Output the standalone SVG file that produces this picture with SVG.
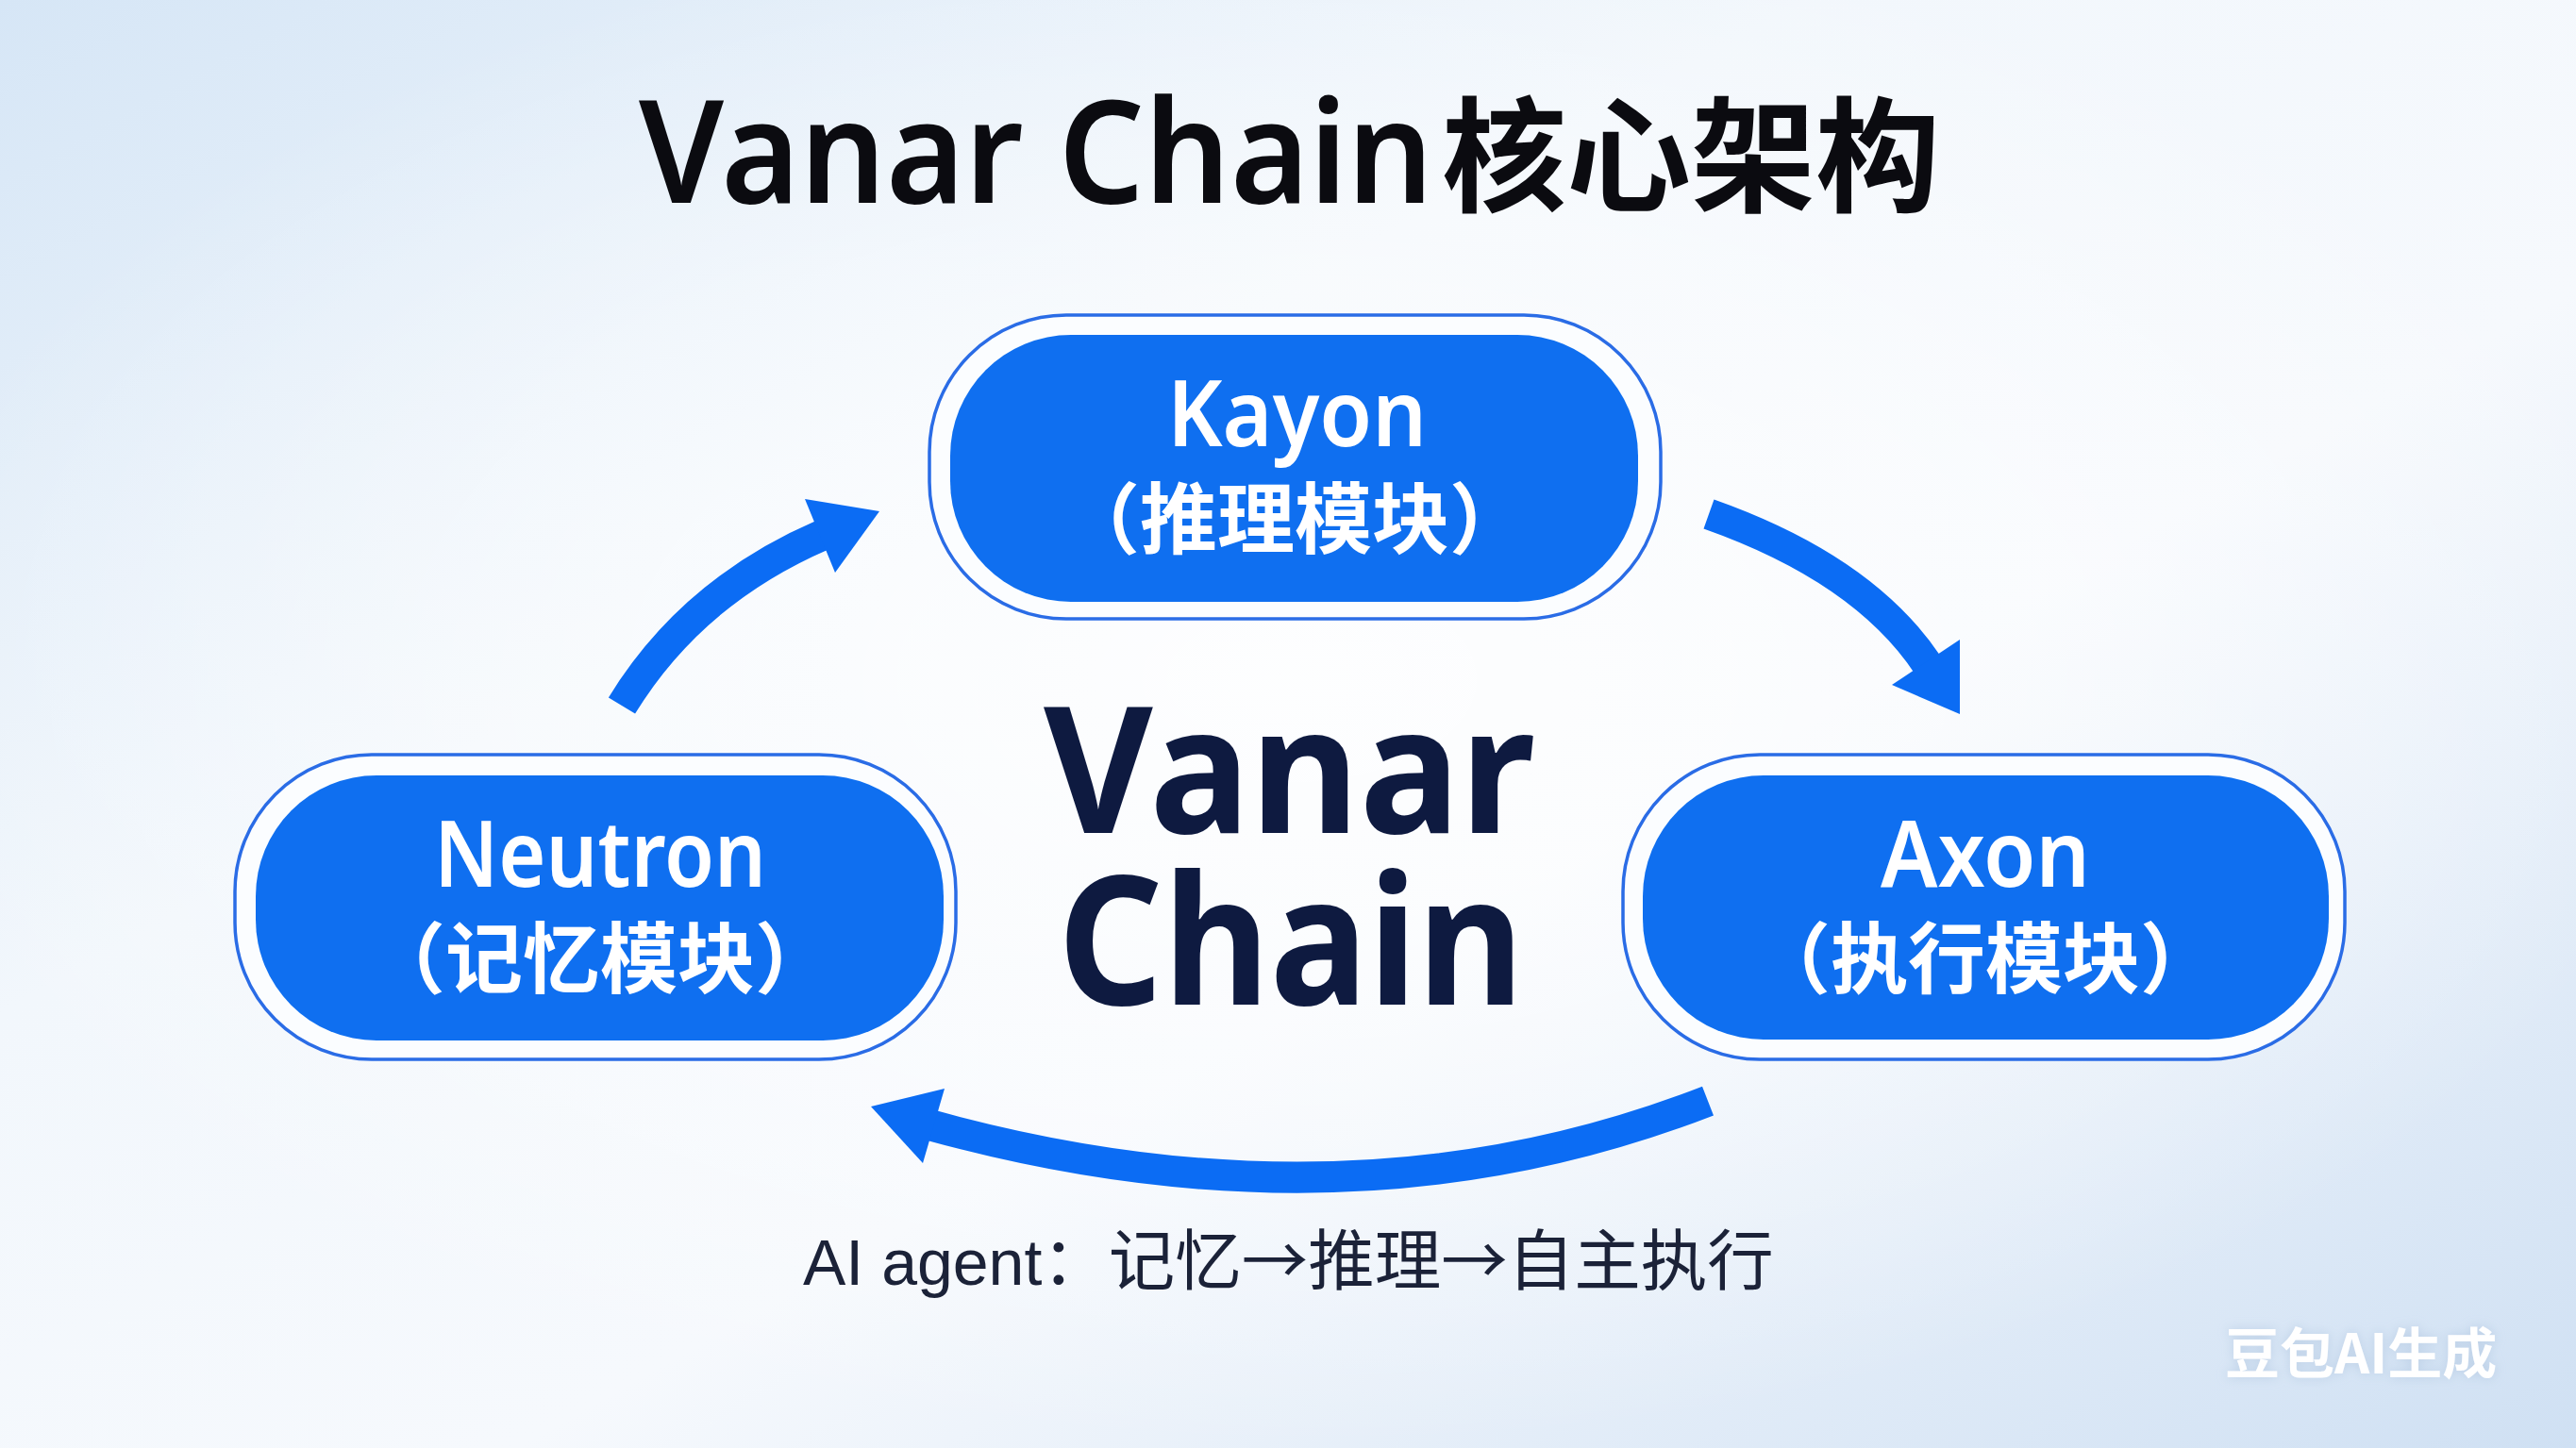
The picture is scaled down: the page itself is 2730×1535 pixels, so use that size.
<svg xmlns="http://www.w3.org/2000/svg" width="2730" height="1535" viewBox="0 0 2730 1535">
  <defs>
    <linearGradient id="bg" x1="0" y1="0" x2="1" y2="1">
      <stop offset="0" stop-color="#d6e6f6"/>
      <stop offset="0.35" stop-color="#f2f7fc"/>
      <stop offset="0.6" stop-color="#f6f9fd"/>
      <stop offset="1" stop-color="#cfe0f3"/>
    </linearGradient>
    <radialGradient id="glow" cx="0.5" cy="0.5" r="0.5">
      <stop offset="0" stop-color="#ffffff" stop-opacity="0.85"/>
      <stop offset="0.6" stop-color="#ffffff" stop-opacity="0.4"/>
      <stop offset="1" stop-color="#ffffff" stop-opacity="0"/>
    </radialGradient>
    <filter id="wm" x="-20%" y="-40%" width="140%" height="180%">
      <feGaussianBlur in="SourceAlpha" stdDeviation="6" result="b"/>
      <feFlood flood-color="#9fb8d6" flood-opacity="0.5"/>
      <feComposite in2="b" operator="in" result="s"/>
      <feMerge><feMergeNode in="s"/><feMergeNode in="SourceGraphic"/></feMerge>
    </filter>
  </defs>
  <style>
    .outer { fill: #fbfdff; stroke: #2a6ce6; stroke-width: 3.5; }
    .inner { fill: #0f6ff0; }
    .lat { font-family: "Noto Sans", "Liberation Sans", sans-serif; }
    .cjk { font-family: "Noto Sans CJK SC", "Noto Sans", sans-serif; }
    .nodeT { fill: #ffffff; font-weight: 600; font-size: 98px; }
    .nodeC { fill: #ffffff; font-weight: 700; font-size: 82px; }
    .arrowBody { fill: none; stroke: #0b6cf4; stroke-width: 33; stroke-linecap: butt; }
    .arrowHead { fill: #0b6cf4; }
  </style>

  <rect x="0" y="0" width="2730" height="1535" fill="url(#bg)"/>
  <ellipse cx="1365" cy="720" rx="1500" ry="820" fill="url(#glow)"/>

  <g id="title">
    <text y="215" fill="#0b0b10"><tspan class="lat" x="677" font-size="152" font-weight="600" textLength="842" lengthAdjust="spacingAndGlyphs">Vanar Chain</tspan><tspan class="cjk" x="1528" y="214" font-size="132" font-weight="700">核心架构</tspan></text>
  </g>

  <g id="connectors">
    <g id="arrow-neutron-kayon">
      <path class="arrowBody" d="M659,748 Q733,627 872,567"/>
      <polygon class="arrowHead" points="853,529 932,542 885,607"/>
    </g>
    <g id="arrow-kayon-axon">
      <path class="arrowBody" d="M1811,545 Q1975,603 2043,705"/>
      <polygon class="arrowHead" points="2077,678 2077,757 2005,726"/>
    </g>
    <g id="arrow-axon-neutron">
      <path class="arrowBody" d="M1810,1167 Q1430,1315 987,1193"/>
      <polygon class="arrowHead" points="1001,1154 923,1173 978,1233"/>
    </g>
  </g>

  <g id="node-kayon">
    <rect class="outer" x="985" y="334" width="775" height="322" rx="145" ry="145"/>
    <rect class="inner" x="1007" y="355" width="729" height="283" rx="128" ry="128"/>
    <text><tspan class="lat nodeT" x="1237" y="473" textLength="275" lengthAdjust="spacingAndGlyphs">Kayon</tspan><tspan class="cjk nodeC" x="1372" y="580" text-anchor="middle">（推理模块）</tspan></text>
  </g>

  <g id="node-neutron">
    <rect class="outer" x="249" y="800" width="764" height="323" rx="145" ry="145"/>
    <rect class="inner" x="271" y="822" width="729" height="281" rx="128" ry="128"/>
    <text><tspan class="lat nodeT" x="460" y="940" textLength="352" lengthAdjust="spacingAndGlyphs">Neutron</tspan><tspan class="cjk nodeC" x="636" y="1046" text-anchor="middle">（记忆模块）</tspan></text>
  </g>

  <g id="node-axon">
    <rect class="outer" x="1720" y="800" width="765" height="323" rx="145" ry="145"/>
    <rect class="inner" x="1741" y="822" width="727" height="280" rx="128" ry="128"/>
    <text><tspan class="lat nodeT" x="1993" y="940" textLength="222" lengthAdjust="spacingAndGlyphs">Axon</tspan><tspan class="cjk nodeC" x="2104" y="1046" text-anchor="middle">（执行模块）</tspan></text>
  </g>

  <g id="center-label">
    <text class="lat" font-weight="700" fill="#0e1a40"><tspan x="1106" y="883" font-size="186" textLength="521" lengthAdjust="spacingAndGlyphs">Vanar</tspan><tspan x="1121" y="1065" font-size="190" textLength="494" lengthAdjust="spacingAndGlyphs">Chain</tspan></text>
  </g>

  <g id="caption">
    <text x="851" y="1362" fill="#1b2238"><tspan font-family="Liberation Sans, sans-serif" font-size="68">AI agent</tspan><tspan class="cjk" font-size="70.5">：记忆→推理→自主执行</tspan></text>
  </g>

  <g id="watermark">
    <text class="cjk" x="2358" y="1456" font-size="58" font-weight="700" fill="#ffffff" filter="url(#wm)">豆包AI生成</text>
  </g>
</svg>
